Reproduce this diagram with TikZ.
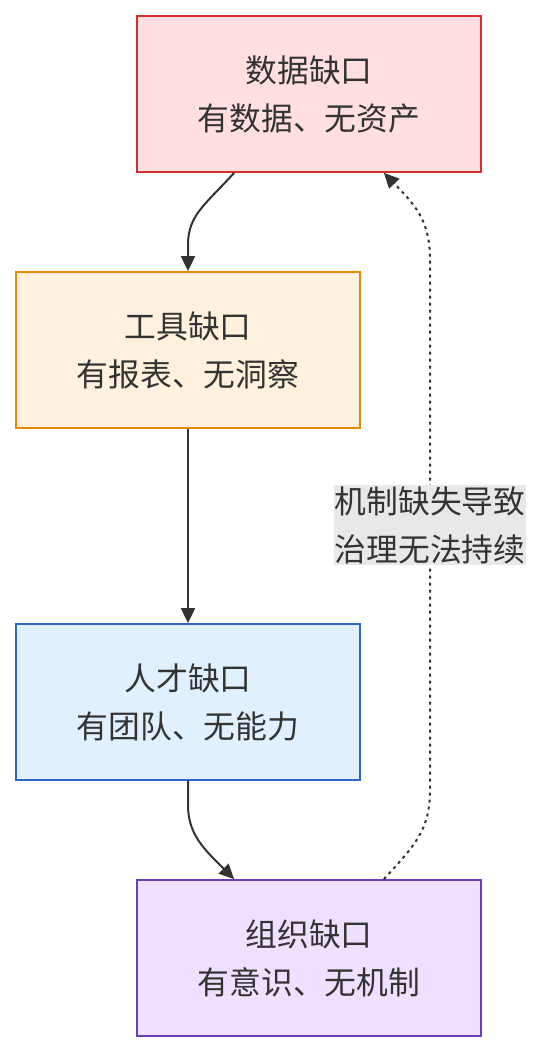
\documentclass[tikz,border=0pt]{standalone}
\usepackage{fontspec}
\setmainfont{Noto Sans CJK SC}
\usetikzlibrary{arrows.meta}
\definecolor{txt}{HTML}{333333}
\definecolor{fa}{HTML}{FFDFE0}\definecolor{da}{HTML}{D23030}
\definecolor{fb}{HTML}{FFF1DE}\definecolor{db}{HTML}{E58A00}
\definecolor{fc}{HTML}{E0F0FF}\definecolor{dc}{HTML}{3366CC}
\definecolor{fd}{HTML}{F0E0FF}\definecolor{dd}{HTML}{6A3DC0}
\definecolor{lbg}{HTML}{E8E8E8}
\tikzset{
  gapbox/.style={draw, line width=1.8pt, minimum width=344pt, minimum height=156pt,
    align=center, text=txt, font=\fontsize{31.8}{48}\selectfont, inner sep=0pt},
  link/.style={draw=txt, line width=2pt, -{Triangle[length=15pt,width=14pt]}},
  dashlink/.style={link, dash pattern=on 3pt off 4pt},
}
\begin{document}
\begin{tikzpicture}[x=1pt,y=-1pt]
\useasboundingbox (0,0) rectangle (542,1052);
\node[gapbox, fill=fa, draw=da] (A) at (309,94) {数据缺口\\有数据、无资产};
\node[gapbox, fill=fb, draw=db] (B) at (188,350) {工具缺口\\有报表、无洞察};
\node[gapbox, fill=fc, draw=dc] (C) at (188,702) {人才缺口\\有团队、无能力};
\node[gapbox, fill=fd, draw=dd] (D) at (309,958) {组织缺口\\有意识、无机制};
\coordinate (a1) at ([xshift=98pt]A.south west);
\coordinate (a2) at ([xshift=-98pt]A.south east);
\coordinate (d1) at ([xshift=98pt]D.north west);
\coordinate (d2) at ([xshift=-98pt]D.north east);
\draw[link] (a1) .. controls (205,205) and (188,215) .. (188,245) -- (B.north);
\draw[link] (B.south) -- (C.north);
\draw[link] (C.south) -- (188,805) .. controls (188,835) and (205,850) .. (d1);
\draw[dashlink] (d2) .. controls (415,845) and (430,830) .. (430,790) -- (430,260) .. controls (430,220) and (415,205) .. (a2);
\node[fill=lbg, text=txt, font=\fontsize{31.8}{48}\selectfont, align=center, inner sep=1pt] (L) at (430,525) {机制缺失导致\\治理无法持续};
\end{tikzpicture}
\end{document}
